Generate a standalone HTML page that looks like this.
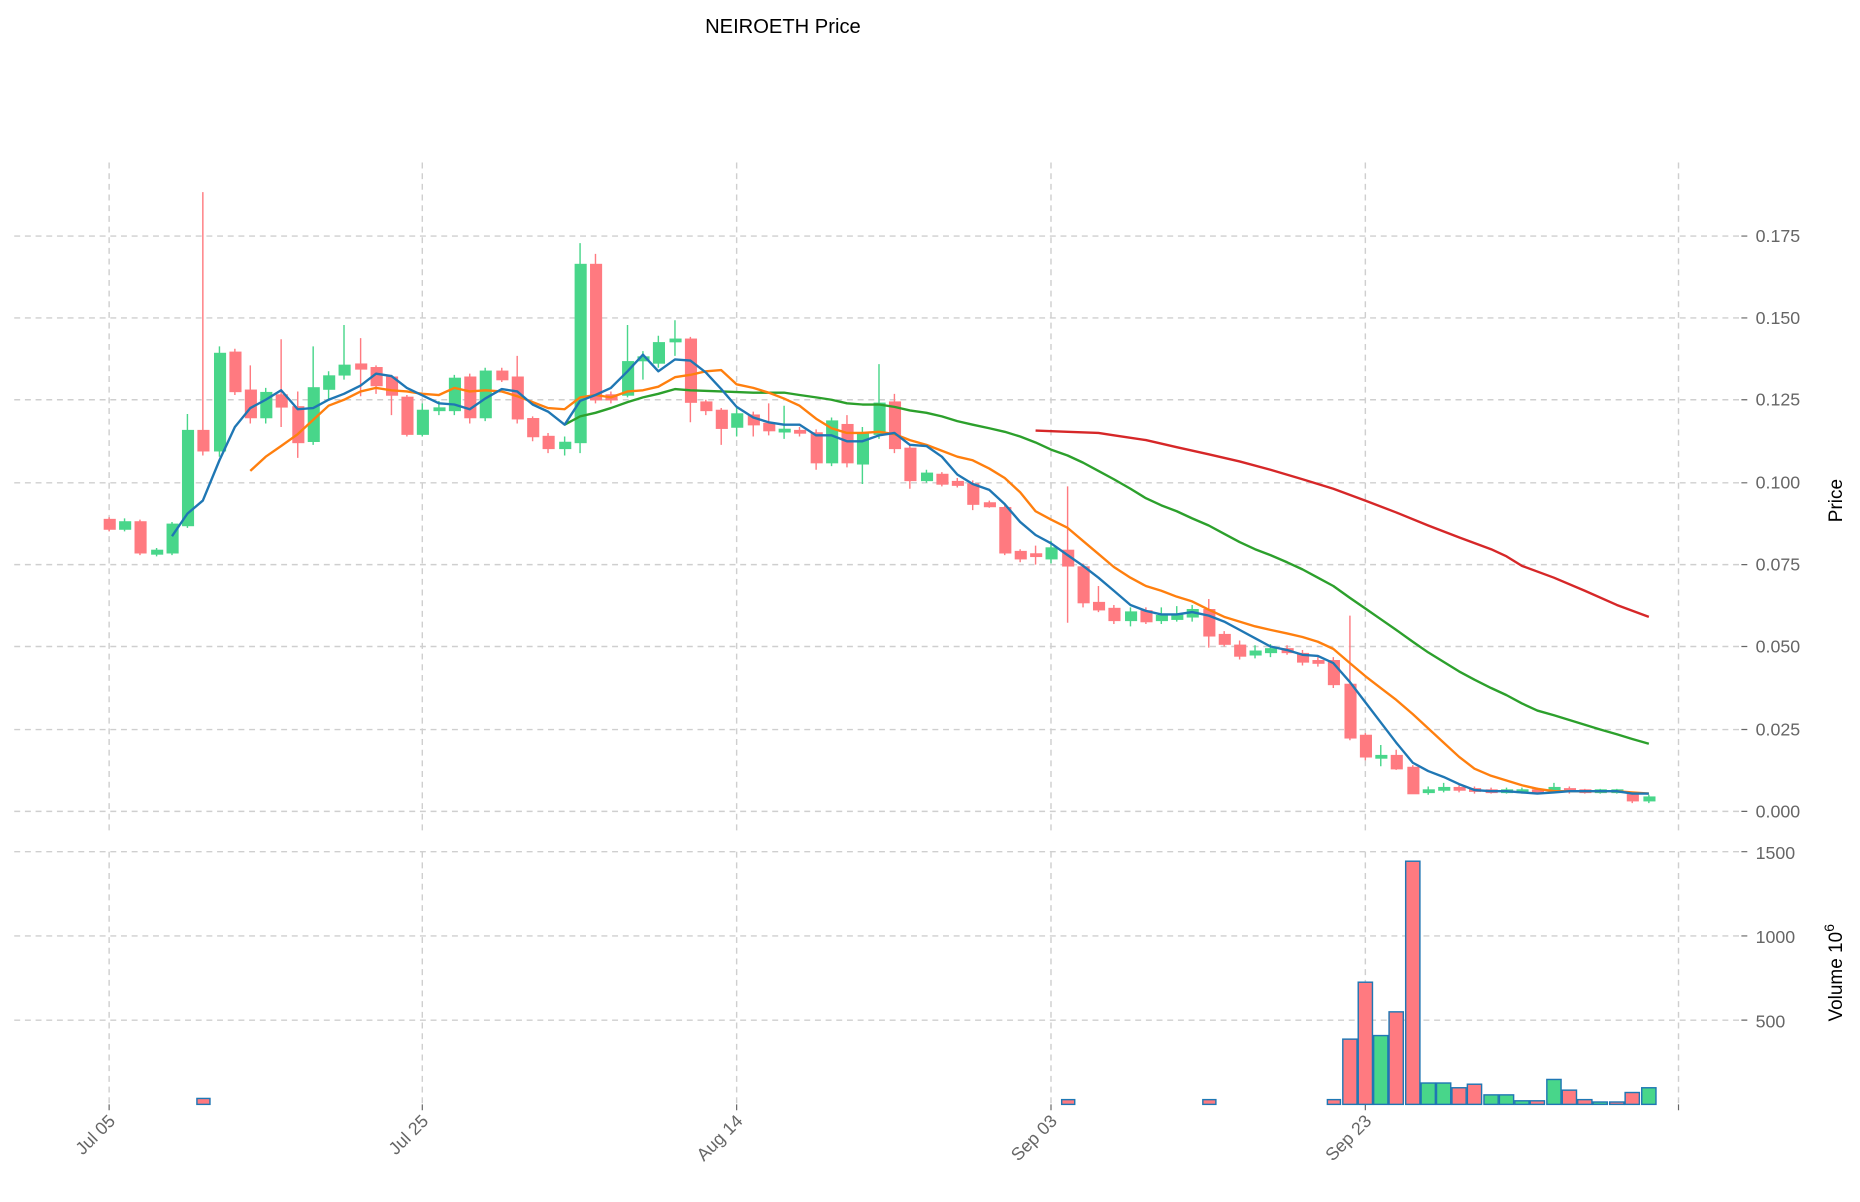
<!DOCTYPE html>
<html><head><meta charset="utf-8"><style>html,body{margin:0;padding:0;background:#fff}svg{display:block}text{font-family:"Liberation Sans",sans-serif}</style></head><body>
<svg width="1860" height="1202" viewBox="0 0 1568 1013.3" xmlns="http://www.w3.org/2000/svg">
<rect width="1568" height="1014" fill="#fff"/>
<text x="660" y="28" font-size="17" text-anchor="middle" fill="#000">NEIROETH Price</text>
<g stroke="#cfcfcf" stroke-width="1.2" stroke-dasharray="5,4" fill="none">
<path d="M12 684H1468M12 615H1468M12 545H1468M12 476H1468M12 407H1468M12 337H1468M12 268H1468M12 199H1468"/>
<path d="M12 860H1468M12 789H1468M12 718H1468"/>
<path d="M92 137V700M356 137V700M621 137V700M886 137V700M1151 137V700M1415 137V700"/>
<path d="M92 718V931M356 718V931M621 718V931M886 718V931M1151 718V931M1415 718V931"/>
</g>
<g fill="#666" font-size="15">
<text x="1480" y="689">0.000</text><text x="1480" y="620">0.025</text><text x="1480" y="550">0.050</text><text x="1480" y="481">0.075</text><text x="1480" y="412">0.100</text><text x="1480" y="342">0.125</text><text x="1480" y="273">0.150</text><text x="1480" y="204">0.175</text>
<text x="1480" y="866">500</text><text x="1480" y="795">1000</text><text x="1480" y="724">1500</text>
</g>
<g stroke="#666" stroke-width="1"><path d="M1468 684h5M1468 615h5M1468 545h5M1468 476h5M1468 407h5M1468 337h5M1468 268h5M1468 199h5M1468 860h5M1468 789h5M1468 718h5M92 931v5M356 931v5M621 931v5M886 931v5M1151 931v5M1415 931v5"/></g>
<text transform="translate(1553,422) rotate(-90)" font-size="16" text-anchor="middle">Price</text>
<text transform="translate(1553,820) rotate(-90)" font-size="16" text-anchor="middle">Volume  10<tspan dy="-7" font-size="12">6</tspan></text>
<g fill="#666" font-size="15" text-anchor="end">
<text transform="translate(98,946) rotate(-45)">Jul 05</text>
<text transform="translate(362,946) rotate(-45)">Jul 25</text>
<text transform="translate(627,946) rotate(-45)">Aug 14</text>
<text transform="translate(892,946) rotate(-45)">Sep 03</text>
<text transform="translate(1157,946) rotate(-45)">Sep 23</text>
</g>
<g stroke="#1f77b4" stroke-width="1.2">
<rect x="166" y="926" width="11" height="5" fill="#ff7a80"/>
<rect x="895" y="927" width="11" height="4" fill="#ff7a80"/>
<rect x="1014" y="927" width="11" height="4" fill="#ff7a80"/>
<rect x="1119" y="927" width="11" height="4" fill="#ff7a80"/>
<rect x="1132" y="876" width="12" height="55" fill="#ff7a80"/>
<rect x="1145" y="828" width="12" height="103" fill="#ff7a80"/>
<rect x="1158" y="873" width="12" height="58" fill="#48d68a"/>
<rect x="1171" y="853" width="12" height="78" fill="#ff7a80"/>
<rect x="1185" y="726" width="12" height="205" fill="#ff7a80"/>
<rect x="1198" y="913" width="12" height="18" fill="#48d68a"/>
<rect x="1211" y="913" width="12" height="18" fill="#48d68a"/>
<rect x="1224" y="917" width="12" height="14" fill="#ff7a80"/>
<rect x="1237" y="914" width="12" height="17" fill="#ff7a80"/>
<rect x="1251" y="923" width="12" height="8" fill="#48d68a"/>
<rect x="1264" y="923" width="12" height="8" fill="#48d68a"/>
<rect x="1277" y="928" width="12" height="3" fill="#48d68a"/>
<rect x="1290" y="928" width="12" height="3" fill="#ff7a80"/>
<rect x="1304" y="910" width="12" height="21" fill="#48d68a"/>
<rect x="1317" y="919" width="12" height="12" fill="#ff7a80"/>
<rect x="1330" y="927" width="12" height="4" fill="#ff7a80"/>
<rect x="1343" y="929" width="12" height="2" fill="#48d68a"/>
<rect x="1357" y="929" width="12" height="2" fill="#ff7a80"/>
<rect x="1370" y="921" width="12" height="10" fill="#ff7a80"/>
<rect x="1384" y="917" width="12" height="14" fill="#48d68a"/>
</g>
<g stroke-width="1.2">
<g stroke="#ff7a80" fill="#ff7a80">
<path d="M92 436V448M118 438V468M171 162V384M198 294V333M211 308V357M237 286V360M251 330V386M304 285V334M317 308V332M330 316V350M343 333V368M396 315V357M423 310V322M436 300V357M449 351V372M462 365V382M502 214V340M515 330V340M582 284V356M595 337V350M608 344V375M635 347V368M648 340V367M674 360V368M688 362V396M714 350V394M754 332V382M767 374V412M794 398V410M807 403V411M820 405V430M834 422V428M847 424V468M860 463V474M873 460V476M900 410V525M913 475V512M926 494V516M939 510V526M966 512V526M1019 505V546M1032 532V545M1045 540V556M1085 544V552M1098 548V561M1111 554V562M1124 554V580M1138 519V624M1151 618V641M1177 632V649M1191 645V669M1230 662V668M1243 663V669M1257 664V669M1296 664V669M1323 663V669M1336 665V669M1376 668V677"/>
<rect x="88" y="438" width="9" height="8"/><rect x="114" y="440" width="9" height="26"/><rect x="167" y="363" width="9" height="17"/><rect x="194" y="297" width="9" height="33"/><rect x="207" y="329" width="9" height="23"/><rect x="233" y="333" width="9" height="10"/><rect x="247" y="343" width="9" height="30"/><rect x="300" y="307" width="9" height="4"/><rect x="313" y="310" width="9" height="15"/><rect x="326" y="318" width="9" height="15"/><rect x="339" y="335" width="9" height="31"/><rect x="392" y="318" width="9" height="34"/><rect x="419" y="313" width="9" height="7"/><rect x="432" y="318" width="9" height="35"/><rect x="445" y="353" width="9" height="15"/><rect x="458" y="368" width="9" height="10"/><rect x="498" y="223" width="9" height="114"/><rect x="511" y="333" width="9" height="4"/><rect x="578" y="286" width="9" height="53"/><rect x="591" y="339" width="9" height="7"/><rect x="604" y="346" width="9" height="15"/><rect x="631" y="350" width="9" height="8"/><rect x="644" y="357" width="9" height="6"/><rect x="670" y="363" width="9" height="2"/><rect x="684" y="365" width="9" height="25"/><rect x="710" y="358" width="9" height="32"/><rect x="750" y="339" width="9" height="39"/><rect x="763" y="378" width="9" height="27"/><rect x="790" y="400" width="9" height="8"/><rect x="803" y="406" width="9" height="3"/><rect x="816" y="408" width="9" height="17"/><rect x="830" y="424" width="9" height="3"/><rect x="843" y="428" width="9" height="38"/><rect x="856" y="465" width="9" height="6"/><rect x="869" y="467" width="9" height="2"/><rect x="896" y="464" width="9" height="13"/><rect x="909" y="478" width="9" height="30"/><rect x="922" y="508" width="9" height="6"/><rect x="935" y="513" width="9" height="10"/><rect x="962" y="515" width="9" height="9"/><rect x="1015" y="514" width="9" height="22"/><rect x="1028" y="535" width="9" height="8"/><rect x="1041" y="544" width="9" height="9"/><rect x="1081" y="547" width="9" height="3"/><rect x="1094" y="551" width="9" height="7"/><rect x="1107" y="557" width="9" height="2"/><rect x="1120" y="557" width="9" height="20"/><rect x="1134" y="577" width="9" height="45"/><rect x="1147" y="620" width="9" height="18"/><rect x="1173" y="637" width="9" height="11"/><rect x="1187" y="647" width="9" height="22"/><rect x="1226" y="664" width="9" height="2"/><rect x="1239" y="665" width="9" height="2"/><rect x="1253" y="666" width="9" height="2"/><rect x="1292" y="666" width="9" height="2"/><rect x="1319" y="665" width="9" height="2"/><rect x="1332" y="666" width="9" height="2"/><rect x="1372" y="670" width="9" height="5"/>
</g>
<g stroke="#48d68a" fill="#48d68a">
<path d="M105 437V448M132 462V469M145 440V468M158 349V445M185 292V385M224 327V357M264 292V375M277 313V337M290 274V320M356 340V368M370 338V350M383 316V350M409 310V355M476 368V384M489 205V382M529 274V335M542 296V320M555 283V310M569 270V300M621 344V368M661 342V370M701 352V393M727 360V408M741 307V370M781 396V407M886 456V475M953 512V528M979 512V526M992 511V524M1005 510V524M1058 544V555M1071 543V554M1164 628V646M1204 663V670M1217 660V668M1270 664V669M1283 664V669M1310 660V668M1349 665V669M1363 665V669M1390 670V677"/>
<rect x="101" y="440" width="9" height="6"/><rect x="128" y="464" width="9" height="3"/><rect x="141" y="442" width="9" height="24"/><rect x="154" y="363" width="9" height="80"/><rect x="181" y="298" width="9" height="82"/><rect x="220" y="331" width="9" height="21"/><rect x="260" y="327" width="9" height="45"/><rect x="273" y="317" width="9" height="11"/><rect x="286" y="308" width="9" height="8"/><rect x="352" y="346" width="9" height="20"/><rect x="366" y="344" width="9" height="2"/><rect x="379" y="319" width="9" height="27"/><rect x="405" y="313" width="9" height="39"/><rect x="472" y="373" width="9" height="5"/><rect x="485" y="223" width="9" height="150"/><rect x="525" y="305" width="9" height="28"/><rect x="538" y="301" width="9" height="3"/><rect x="551" y="289" width="9" height="17"/><rect x="565" y="286" width="9" height="2"/><rect x="617" y="349" width="9" height="11"/><rect x="657" y="362" width="9" height="2"/><rect x="697" y="355" width="9" height="35"/><rect x="723" y="366" width="9" height="25"/><rect x="737" y="340" width="9" height="26"/><rect x="777" y="399" width="9" height="6"/><rect x="882" y="462" width="9" height="9"/><rect x="949" y="516" width="9" height="7"/><rect x="975" y="519" width="9" height="4"/><rect x="988" y="518" width="9" height="4"/><rect x="1001" y="514" width="9" height="6"/><rect x="1054" y="549" width="9" height="3"/><rect x="1067" y="547" width="9" height="3"/><rect x="1160" y="637" width="9" height="2"/><rect x="1200" y="666" width="9" height="2"/><rect x="1213" y="664" width="9" height="2"/><rect x="1266" y="666" width="9" height="2"/><rect x="1279" y="666" width="9" height="2"/><rect x="1306" y="664" width="9" height="3"/><rect x="1345" y="666" width="9" height="2"/><rect x="1359" y="666" width="9" height="2"/><rect x="1386" y="672" width="9" height="3"/>
</g>
</g>
<g fill="none" stroke-width="2" stroke-linejoin="round">
<polyline stroke="#d62728" points="873,363 900,364 926,365 939,367 966,371 992,377 1019,383 1045,389 1071,396 1098,404 1124,412 1151,422 1177,432 1204,443 1230,453 1257,463 1270,469 1283,477 1310,487 1336,498 1363,510 1390,520"/>
<polyline stroke="#2ca02c" points="476,358 489,351 502,348 515,344 529,339 542,335 555,332 569,328 582,329 608,330 635,331 661,331 674,333 688,335 701,337 714,340 727,341 741,341 754,343 767,346 781,348 794,351 807,355 820,358 834,361 847,364 860,368 873,373 886,379 900,384 913,390 926,397 939,404 953,412 966,420 979,426 992,431 1005,437 1019,443 1032,450 1045,457 1058,463 1071,468 1085,474 1098,480 1111,487 1124,494 1138,504 1151,513 1164,522 1177,531 1191,541 1204,550 1217,558 1230,566 1243,573 1257,580 1270,586 1283,593 1296,599 1310,603 1323,607 1336,611 1349,615 1363,619 1376,623 1390,627"/>
<polyline stroke="#ff7f0e" points="211,397 224,385 237,376 251,366 264,354 277,342 290,337 304,330 317,327 330,329 343,330 356,332 370,333 383,327 396,330 409,329 423,330 436,334 449,339 462,344 476,345 489,335 502,333 515,335 529,330 542,329 555,326 569,318 582,316 595,313 608,312 621,324 635,327 648,331 661,336 674,342 688,353 701,361 714,365 727,365 741,364 754,366 767,371 781,375 794,380 807,385 820,388 834,395 847,403 860,415 873,431 886,438 900,445 913,456 926,467 939,478 953,487 966,494 979,498 992,503 1005,507 1019,514 1032,520 1045,524 1058,528 1071,531 1085,534 1098,537 1111,541 1124,547 1138,559 1151,570 1164,580 1177,590 1191,602 1204,614 1217,626 1230,638 1243,648 1257,654 1270,658 1283,662 1296,665 1310,667 1323,667 1336,667 1349,667 1363,667 1376,668 1390,669"/>
<polyline stroke="#1f77b4" points="145,452 158,433 171,422 185,388 198,360 211,344 224,337 237,329 251,345 264,344 277,337 290,332 304,325 317,315 330,317 343,327 370,340 383,341 396,345 409,336 423,328 436,330 449,341 462,347 476,358 489,338 502,333 515,327 529,313 542,299 555,313 569,303 582,304 595,314 608,328 621,343 635,352 648,356 661,358 674,358 688,367 701,367 714,372 727,372 741,367 754,365 767,375 781,376 794,385 807,400 820,408 834,413 847,425 860,440 873,451 886,458 900,468 913,477 926,487 939,498 953,510 966,515 979,518 992,518 1005,516 1019,519 1032,524 1045,531 1058,538 1071,545 1085,548 1098,552 1111,553 1124,559 1138,575 1151,592 1164,609 1177,626 1191,643 1204,650 1217,655 1230,661 1243,666 1257,667 1270,667 1283,668 1296,669 1310,668 1323,667 1336,667 1349,667 1363,667 1376,669 1390,669"/>
</g>
</svg>
</body></html>
